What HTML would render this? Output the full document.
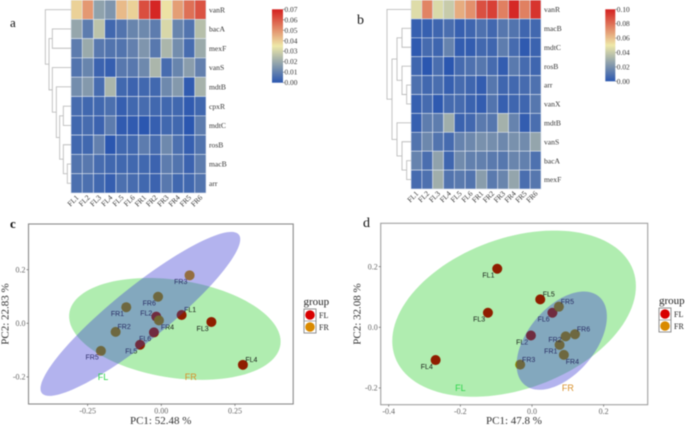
<!DOCTYPE html>
<html lang="en">
<head>
<meta charset="utf-8">
<title>Heatmaps and PCA plots</title>
<style>
html,body{margin:0;padding:0;background:#fff;}
body{width:685px;height:426px;overflow:hidden;}
svg{display:block;filter:blur(0.45px);}
text{font-family:"Liberation Serif",serif;}
.sans{font-family:"Liberation Sans",sans-serif;}
</style>
</head>
<body>
<svg id="figure" xmlns="http://www.w3.org/2000/svg" width="685" height="426" viewBox="0 0 685 426">
<defs>
<linearGradient id="ramp" x1="0" y1="1" x2="0" y2="0">
<stop offset="0" stop-color="#2b57b0"/>
<stop offset="0.5" stop-color="#eee8a8"/>
<stop offset="1" stop-color="#d42020"/>
</linearGradient>
</defs>
<rect width="685" height="426" fill="#fff"/>
<text x="10" y="27" font-size="13" fill="#111">a</text>
<text x="357" y="24" font-size="14" fill="#111">b</text>
<text x="10" y="228" font-size="13" font-weight="bold" fill="#111">c</text>
<text x="363" y="227" font-size="14" fill="#111">d</text>
<g id="panel-a"></g>
<g id="panel-b"></g>
<g id="panel-c" style="isolation:isolate"></g>
<g id="panel-d" style="isolation:isolate"></g>

<g>
<text x="303.5" y="305" font-size="11" fill="#222">group</text>
<rect x="304" y="309" width="12" height="24" fill="#fff" stroke="#777" stroke-width="0.8"/>
<line x1="304" x2="316" y1="321" y2="321" stroke="#777" stroke-width="0.6"/>
<circle cx="310" cy="315" r="4.8" fill="#d80000"/>
<circle cx="310" cy="327" r="4.8" fill="#d98a00"/>
<text x="319" y="318" font-size="8" fill="#222">FL</text>
<text x="319" y="330" font-size="8" fill="#222">FR</text>
</g>
<g>
<text x="659" y="304" font-size="11" fill="#222">group</text>
<rect x="659" y="308" width="12" height="24" fill="#fff" stroke="#777" stroke-width="0.8"/>
<line x1="659" x2="671" y1="320" y2="320" stroke="#777" stroke-width="0.6"/>
<circle cx="665" cy="314" r="4.8" fill="#d80000"/>
<circle cx="665" cy="326" r="4.8" fill="#d98a00"/>
<text x="674" y="317" font-size="8" fill="#222">FL</text>
<text x="674" y="329" font-size="8" fill="#222">FR</text>
</g>
</svg>

<script>
const sampleNames = ['FL1','FL2','FL3','FL4','FL5','FL6','FR1','FR2','FR3','FR4','FR5','FR6'];

const genesA = ['vanR','bacA','mexF','vanS','mdtB','cpxR','mdtC','rosB','macB','arr'];
const heatA = [
  [.039,.049,.018,.015,.043,.039,.062,.069,.036,.048,.056,.061],
  [.019,.009,.026,.004,.007,.011,.012,.009,.031,.011,.007,.025],
  [.009,.020,.008,.007,.007,.010,.015,.008,.023,.013,.005,.020],
  [.007,.011,.003,.002,.008,.008,.012,.023,.005,.011,.017,.010],
  [.013,.016,.005,.023,.004,.003,.004,.004,.012,.016,.001,.022],
  [.005,.004,.004,.006,.002,.004,.005,.004,.004,.004,.001,.004],
  [.004,.005,.003,.009,.001,.001,.000,.002,.004,.004,.000,.009],
  [.004,.004,.010,.000,.004,.004,.009,.005,.012,.006,.002,.007],
  [.007,.008,.005,.004,.004,.004,.004,.003,.009,.007,.003,.009],
  [.006,.006,.004,.002,.006,.005,.004,.003,.008,.004,.004,.007]
];
const treeA = [77,0,[66,[56,1,2],[56,3,[44,4,[34,[23,5,6],[23,7,[11,8,9]]]]]]];
const scaleTicksA = [0,0.01,0.02,0.03,0.04,0.05,0.06,0.07];

const genesB = ['vanR','macB','mdtC','rosB','arr','vanX','mdtB','vanS','bacA','mexF'];
const heatB = [
  [.046,.075,.045,.040,.065,.072,.088,.092,.076,.098,.076,.095],
  [.003,.003,.005,.008,.003,.005,.009,.006,.011,.010,.005,.006],
  [.001,.007,.005,.015,.002,.002,.006,.005,.013,.007,.001,.004],
  [.005,.000,.008,.000,.007,.009,.011,.007,.002,.012,.007,.005],
  [.009,.006,.008,.003,.007,.005,.002,.011,.005,.006,.007,.009],
  [.003,.007,.001,.007,.007,.004,.002,.010,.003,.005,.005,.011],
  [.003,.013,.013,.030,.004,.006,.012,.011,.031,.015,.002,.008],
  [.010,.017,.010,.007,.015,.017,.020,.019,.017,.020,.018,.027],
  [.015,.008,.026,.005,.018,.014,.014,.012,.011,.016,.014,.009],
  [.007,.009,.030,.010,.012,.010,.024,.012,.016,.027,.008,.011]
];
const treeB = [72,0,[57,[42,[27,1,2],[27,3,[13,4,5]]],[42,6,[27,7,[13,8,9]]]]];
const scaleTicksB = [0,0.02,0.04,0.06,0.08,0.10];

const pc1C = [.069,-.017,.170,.277,-.072,-.025,-.119,-.155,.096,-.008,-.205,-.011];
const pc2C = [.031,.025,.005,-.155,-.080,-.034,.060,-.032,.179,.011,-.103,.099];
const labelDirC = ['NE','W','SW','NE','SW','SW','SW','NE','SW','SE','SW','SW'];
const greenEllipseC = [.046,-.021,.359,.190,-.25];
const purpleEllipseC = [-.071,.035,.339,.306,.91];
const xTicksC = [-0.25,0,0.25];
const yTicksC = [-0.2,0,0.2];

const pc1D = [-.097,-.003,-.123,-.269,.023,.057,.077,.094,-.033,.089,.075,.120];
const pc2D = [.193,-.027,.048,-.108,.092,.048,-.058,-.030,-.123,-.091,.068,-.023];
const labelDirD = ['SW','SW','SW','SW','NE','SW','SW','L','NE','SE','NE','NE'];
const greenEllipseD = [-.05,.045,.34,.274,.33];
const purpleEllipseD = [.083,-.044,.126,.162,.49];
const xTicksD = [-0.4,-0.2,0,0.2];
const yTicksD = [-0.2,0,0.2];

const NS = 'http://www.w3.org/2000/svg';
function make(tag, parent, attrs, txt){
  const n = document.createElementNS(NS, tag);
  for (const k in attrs) n.setAttribute(k, attrs[k]);
  if (txt !== undefined) n.textContent = txt;
  parent.appendChild(n);
  return n;
}
function mix(a,b,t){ return a.map((v,i)=>Math.round(v+(b[i]-v)*t)); }
function rampColor(t){
  const lo=[43,87,176], mid=[238,232,168], hi=[212,32,32];
  t=Math.max(0,Math.min(1,t));
  const c = t<.5 ? mix(lo,mid,t*2) : mix(mid,hi,(t-.5)*2);
  return 'rgb('+c.join(',')+')';
}

function drawHeatmap(root, o){
  const cw=(o.right-o.left)/sampleNames.length, rh=(o.bottom-o.top)/o.genes.length;
  const colX=i=>o.left+i*cw, rowY=i=>o.top+i*rh;
  o.values.forEach((row,r)=>{
    row.forEach((v,c)=>{
      const cell=make('rect',root,{x:colX(c),y:rowY(r),width:cw,height:rh,fill:rampColor(v/o.max),stroke:'#dfe6f0','stroke-width':0.6});
      
      
    });
    const lab=make('text',root,{x:o.right+3,y:rowY(r)+rh/2+2.6,'font-size':7.6,fill:'#333'},o.genes[r]);
    
    
  });
  sampleNames.forEach((s,c)=>{
    const x=colX(c)+cw/2+2.5, y=o.bottom+5;
    const lab=make('text',root,{x:x,y:y,'font-size':7.4,fill:'#333','text-anchor':'end',transform:'rotate(-45 '+x+' '+y+')'},s);
    
    
  });
  const dendro=make('g',root,{fill:'none',stroke:'#bdbdbd','stroke-width':0.9});
  
  
  const hx=h=>o.left-h/3;
  function walk(node){
    if(typeof node==='number') return {y:rowY(node)+rh/2,h:0};
    const a=walk(node[1]), b=walk(node[2]), x=hx(node[0]);
    const p=make('path',dendro,{d:'M'+hx(a.h)+' '+a.y+'H'+x+'V'+b.y+'H'+hx(b.h)});
    
    
    return {y:(a.y+b.y)/2,h:node[0]};
  }
  walk(o.tree);
  const bar=make('rect',root,{x:o.barX,y:o.barTop,width:o.barW,height:o.barBottom-o.barTop,fill:'url(#ramp)'});
  
  
  const barY=v=>o.barBottom-(v/o.max)*(o.barBottom-o.barTop);
  o.ticks.forEach(v=>{
    const y=barY(v);
    const t=make('line',root,{x1:o.barX+o.barW,x2:o.barX+o.barW+1.5,y1:y,y2:y,stroke:'#555','stroke-width':0.5});
    
    
    const l=make('text',root,{x:o.barX+o.barW+1.5,y:y+2.5,'font-size':7.4,fill:'#333'},v.toFixed(2));
    
    
  });
}

const dirOffset={NE:[8.5,-5.3],SW:[-8.8,6.3],SE:[8.5,6.5],W:[-10,-3.7],L:[-10.7,3]};

function ellipsePath(e,sx,sy){
  const [cx,cy,dx,dy,rho]=e, phi=Math.acos(rho);
  let d='';
  for(let i=0;i<=120;i++){
    const t=i/120*2*Math.PI;
    const x=sx(cx+dx*Math.cos(t)), y=sy(cy+dy*Math.cos(t-phi));
    d+=(i?'L':'M')+x.toFixed(2)+' '+y.toFixed(2);
  }
  return d+'Z';
}

function drawPca(root,o){
  const sx=v=>o.x0+v*o.xUnit, sy=v=>o.y0-v*o.yUnit;
  const w=o.right-o.left, h=o.bottom-o.top;
  const clip=make('clipPath',root,{id:o.id+'-clip'});
  make('rect',clip,{x:o.left,y:o.top,width:w,height:h});
  const area=make('g',root,{'clip-path':'url(#'+o.id+'-clip)',style:'isolation:isolate'});
  
  
  const bg=make('rect',area,{x:o.left,y:o.top,width:w,height:h,fill:'#fff'});
  
  
  sampleNames.forEach((s,i)=>{
    const c=make('circle',area,{cx:sx(o.pc1[i]),cy:sy(o.pc2[i]),r:5,fill:i<6?'rgb(208,32,0)':'rgb(203,141,0)'});
    
    
  });
  sampleNames.forEach((s,i)=>{
    const off=dirOffset[o.dirs[i]];
    const t=make('text',area,{x:sx(o.pc1[i])+off[0],y:sy(o.pc2[i])+off[1]+2.5,'font-size':7,fill:'#222','text-anchor':'middle',class:'sans'},s);
    
    
  });
  const g=make('path',area,{d:ellipsePath(o.green,sx,sy),fill:'rgb(176,237,176)',style:'mix-blend-mode:multiply'});
  
  
  const p=make('path',area,{d:ellipsePath(o.purple,sx,sy),fill:'rgb(65,65,213)','fill-opacity':0.4});
  
  
  sampleNames.forEach((s,i)=>{
    const c=make('circle',area,{cx:sx(o.pc1[i]),cy:sy(o.pc2[i]),r:5,fill:'rgb(255,255,190)',style:'mix-blend-mode:multiply'});
    
    
  });
  const fl=make('text',area,{x:sx(o.flLabel[0]),y:sy(o.flLabel[1])+3,'font-size':9,fill:'#2fd44c','text-anchor':'middle',class:'sans'},'FL');
  
  
  const fr=make('text',area,{x:sx(o.frLabel[0]),y:sy(o.frLabel[1])+3,'font-size':9,fill:'#d8902a','text-anchor':'middle',class:'sans'},'FR');
  
  
  const frame=make('rect',root,{x:o.left,y:o.top,width:w,height:h,fill:'none',stroke:o.frameColor,'stroke-width':1.1});
  
  
  o.xTicks.forEach(v=>{
    const tk=make('line',root,{x1:sx(v),x2:sx(v),y1:o.bottom,y2:o.bottom+2,stroke:'#666','stroke-width':0.7});
    
    
    const l=make('text',root,{x:sx(v),y:o.bottom+9.5,'font-size':8,fill:'#666','text-anchor':'middle'},v.toFixed(o.xDec));
    
    
  });
  o.yTicks.forEach(v=>{
    const tk=make('line',root,{x1:o.left-2,x2:o.left,y1:sy(v),y2:sy(v),stroke:'#666','stroke-width':0.7});
    
    
    const l=make('text',root,{x:o.left-3,y:sy(v)+2.7,'font-size':8,fill:'#666','text-anchor':'end'},v.toFixed(1));
    
    
  });
  const xt=make('text',root,{x:o.xTitleX,y:424,'font-size':11,fill:'#333','text-anchor':'middle'},o.xTitle);
  
  
  const yt=make('text',root,{x:o.yTitleX,y:314,'font-size':11,fill:'#333','text-anchor':'middle',transform:'rotate(-90 '+o.yTitleX+' 314)'},o.yTitle);
  
  
}

drawHeatmap(document.getElementById('panel-a'),{left:71,right:206,top:0,bottom:193,genes:genesA,values:heatA,max:0.07,tree:treeA,ticks:scaleTicksA,barX:272,barW:11,barTop:9.3,barBottom:82.7});
drawHeatmap(document.getElementById('panel-b'),{left:411,right:541,top:0,bottom:189,genes:genesB,values:heatB,max:0.10,tree:treeB,ticks:scaleTicksB,barX:605.3,barW:10,barTop:9.3,barBottom:81.3});
drawPca(document.getElementById('panel-c'),{id:'c',left:28.5,right:293.2,top:224,bottom:404,x0:161.3,xUnit:294.6,y0:323.3,yUnit:268,pc1:pc1C,pc2:pc2C,dirs:labelDirC,green:greenEllipseC,purple:purpleEllipseC,xTicks:xTicksC,yTicks:yTicksC,xDec:2,flLabel:[-0.198,-0.2],frLabel:[0.1,-0.2],xTitle:'PC1: 52.48 %',yTitle:'PC2: 22.83 %',xTitleX:160.7,yTitleX:8.5,frameColor:'#8a8a8a'});
drawPca(document.getElementById('panel-d'),{id:'d',left:380.7,right:647.7,top:223.3,bottom:404.7,x0:532,xUnit:358.3,y0:327.3,yUnit:303.3,pc1:pc1D,pc2:pc2D,dirs:labelDirD,green:greenEllipseD,purple:purpleEllipseD,xTicks:xTicksD,yTicks:yTicksD,xDec:1,flLabel:[-0.2,-0.2],frLabel:[0.1,-0.2],xTitle:'PC1: 47.8 %',yTitle:'PC2: 32.08 %',xTitleX:514,yTitleX:360.5,frameColor:'#a0a0a0'});
</script>
</body>
</html>
